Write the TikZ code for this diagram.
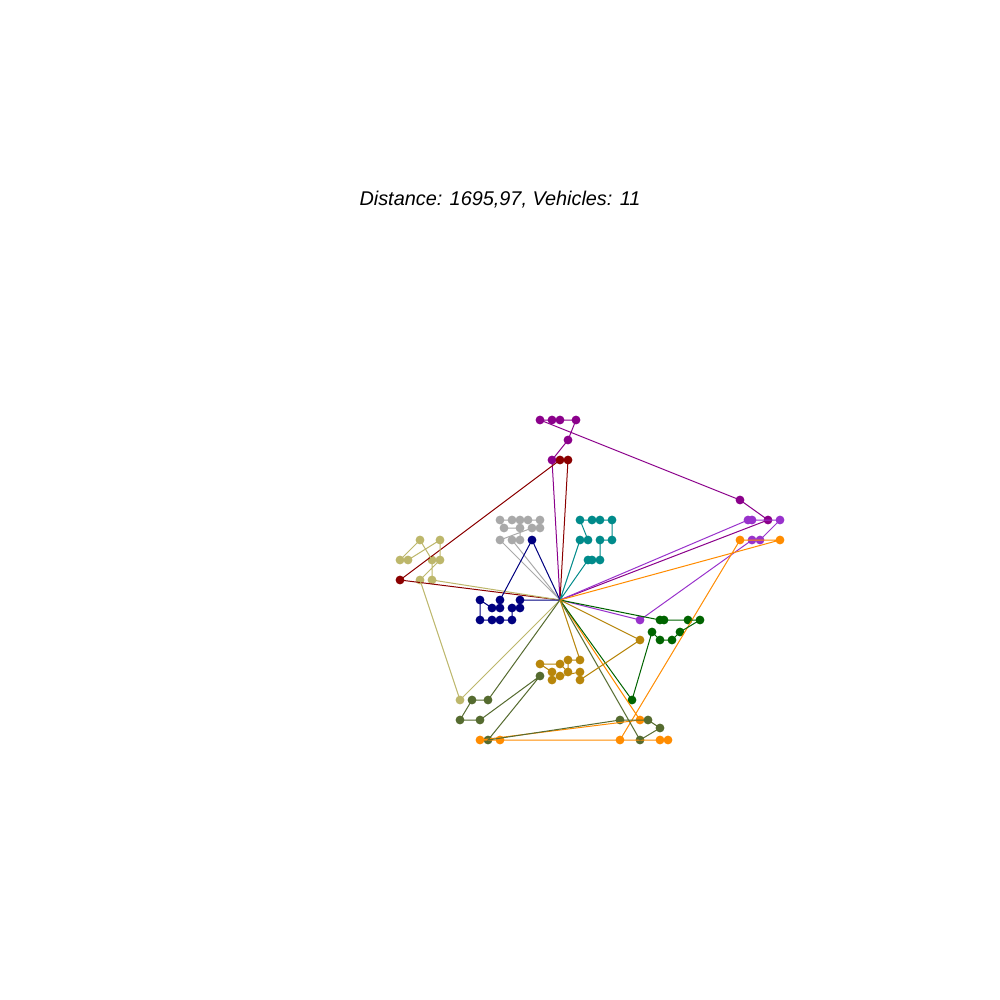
\documentclass[tikz,border=0pt]{standalone}
\usepackage{fontspec}
\setmainfont{Liberation Sans}
\definecolor{cM}{HTML}{8B008B}
\definecolor{cR}{HTML}{8B0000}
\definecolor{cK}{HTML}{BDB76B}
\definecolor{cG}{HTML}{A9A9A9}
\definecolor{cN}{HTML}{000080}
\definecolor{cT}{HTML}{008B8B}
\definecolor{cO}{HTML}{9932CC}
\definecolor{cA}{HTML}{FF8C00}
\definecolor{cE}{HTML}{006400}
\definecolor{cV}{HTML}{556B2F}
\definecolor{cY}{HTML}{B8860B}
\begin{document}
\begin{tikzpicture}[x=0.75pt,y=-0.75pt,
  stop/.style={circle,inner sep=0pt,minimum size=6.6pt,fill=#1,draw=none},
  route/.style={draw=#1,line width=0.75pt}]
\useasboundingbox[fill=white] (0,0) rectangle (1000,1000);
\node[font=\itshape\fontsize{14.9}{17}\selectfont] (title) at (500,200) {Distance: 1695,97, Vehicles: 11};
\coordinate (d) at (560,600);
% darkmagenta
\node[stop=cM] (M1) at (552,460) {}; \node[stop=cM] (M2) at (568,440) {};
\node[stop=cM] (M3) at (576,420) {}; \node[stop=cM] (M4) at (560,420) {};
\node[stop=cM] (M5) at (552,420) {}; \node[stop=cM] (M6) at (540,420) {};
\node[stop=cM] (M7) at (740,500) {}; \node[stop=cM] (M8) at (768,520) {};
% darkred
\node[stop=cR] (R1) at (568,460) {}; \node[stop=cR] (R2) at (560,460) {};
\node[stop=cR] (R3) at (400,580) {};
% khaki
\node[stop=cK] (K1) at (432,580) {}; \node[stop=cK] (K2) at (432,560) {};
\node[stop=cK] (K3) at (420,540) {}; \node[stop=cK] (K4) at (400,560) {};
\node[stop=cK] (K5) at (408,560) {}; \node[stop=cK] (K6) at (440,540) {};
\node[stop=cK] (K7) at (440,560) {}; \node[stop=cK] (K8) at (420,580) {};
\node[stop=cK] (K9) at (460,700) {};
% gray
\node[stop=cG] (G1) at (500,540) {}; \node[stop=cG] (G2) at (532,528) {};
\node[stop=cG] (G3) at (540,528) {}; \node[stop=cG] (G4) at (540,520) {};
\node[stop=cG] (G5) at (528,520) {}; \node[stop=cG] (G6) at (520,520) {};
\node[stop=cG] (G7) at (512,520) {}; \node[stop=cG] (G8) at (500,520) {};
\node[stop=cG] (G9) at (504,528) {}; \node[stop=cG] (G10) at (520,528) {};
\node[stop=cG] (G11) at (520,540) {}; \node[stop=cG] (G12) at (512,540) {};
% navy
\node[stop=cN] (N1) at (532,540) {}; \node[stop=cN] (N2) at (500,600) {};
\node[stop=cN] (N3) at (500,608) {}; \node[stop=cN] (N4) at (492,608) {};
\node[stop=cN] (N5) at (480,600) {}; \node[stop=cN] (N6) at (480,620) {};
\node[stop=cN] (N7) at (492,620) {}; \node[stop=cN] (N8) at (500,620) {};
\node[stop=cN] (N9) at (512,620) {}; \node[stop=cN] (N10) at (512,608) {};
\node[stop=cN] (N11) at (520,608) {}; \node[stop=cN] (N12) at (520,600) {};
% teal
\node[stop=cT] (T1) at (580,540) {}; \node[stop=cT] (T2) at (588,540) {};
\node[stop=cT] (T3) at (580,520) {}; \node[stop=cT] (T4) at (592,520) {};
\node[stop=cT] (T5) at (600,520) {}; \node[stop=cT] (T6) at (612,520) {};
\node[stop=cT] (T7) at (612,540) {}; \node[stop=cT] (T8) at (600,540) {};
\node[stop=cT] (T9) at (600,560) {}; \node[stop=cT] (T10) at (592,560) {};
\node[stop=cT] (T11) at (588,560) {};
% orchid
\node[stop=cO] (O1) at (748,520) {}; \node[stop=cO] (O2) at (752,520) {};
\node[stop=cO] (O3) at (780,520) {}; \node[stop=cO] (O4) at (760,540) {};
\node[stop=cO] (O5) at (752,540) {}; \node[stop=cO] (O6) at (640,620) {};
% orange
\node[stop=cA] (A1) at (640,720) {}; \node[stop=cA] (A2) at (480,740) {};
\node[stop=cA] (A3) at (500,740) {}; \node[stop=cA] (A4) at (668,740) {};
\node[stop=cA] (A5) at (660,740) {}; \node[stop=cA] (A6) at (620,740) {};
\node[stop=cA] (A7) at (740,540) {}; \node[stop=cA] (A8) at (780,540) {};
% green
\node[stop=cE] (E1) at (660,620) {}; \node[stop=cE] (E2) at (664,620) {};
\node[stop=cE] (E3) at (688,620) {}; \node[stop=cE] (E4) at (700,620) {};
\node[stop=cE] (E5) at (680,632) {}; \node[stop=cE] (E6) at (672,640) {};
\node[stop=cE] (E7) at (660,640) {}; \node[stop=cE] (E8) at (652,632) {};
\node[stop=cE] (E9) at (632,700) {};
% olive
\node[stop=cV] (V1) at (488,700) {}; \node[stop=cV] (V2) at (472,700) {};
\node[stop=cV] (V3) at (460,720) {}; \node[stop=cV] (V4) at (480,720) {};
\node[stop=cV] (V5) at (540,676) {}; \node[stop=cV] (V6) at (488,740) {};
\node[stop=cV] (V7) at (620,720) {}; \node[stop=cV] (V8) at (648,720) {};
\node[stop=cV] (V9) at (660,728) {}; \node[stop=cV] (V10) at (640,740) {};
% goldenrod
\node[stop=cY] (Y1) at (580,660) {}; \node[stop=cY] (Y2) at (568,660) {};
\node[stop=cY] (Y3) at (568,672) {}; \node[stop=cY] (Y4) at (560,664) {};
\node[stop=cY] (Y5) at (540,664) {}; \node[stop=cY] (Y6) at (552,672) {};
\node[stop=cY] (Y7) at (552,680) {}; \node[stop=cY] (Y8) at (560,676) {};
\node[stop=cY] (Y9) at (580,672) {}; \node[stop=cY] (Y10) at (580,680) {};
\node[stop=cY] (Y11) at (640,640) {};
% routes
\path[route=cM] (d) -- (M1.center) -- (M2.center) -- (M3.center) -- (M4.center) -- (M5.center) -- (M6.center) -- (M7.center) -- (M8.center) -- (d);
\path[route=cR] (d) -- (R1.center) -- (R2.center) -- (R3.center) -- (d);
\path[route=cK] (d) -- (K1.center) -- (K2.center) -- (K3.center) -- (K4.center) -- (K5.center) -- (K6.center) -- (K7.center) -- (K8.center) -- (K9.center) -- (d);
\path[route=cG] (d) -- (G1.center) -- (G2.center) -- (G3.center) -- (G4.center) -- (G5.center) -- (G6.center) -- (G7.center) -- (G8.center) -- (G9.center) -- (G10.center) -- (G11.center) -- (G12.center) -- (d);
\path[route=cN] (d) -- (N1.center) -- (N2.center) -- (N3.center) -- (N4.center) -- (N5.center) -- (N6.center) -- (N7.center) -- (N8.center) -- (N9.center) -- (N10.center) -- (N11.center) -- (N12.center) -- (d);
\path[route=cT] (d) -- (T1.center) -- (T2.center) -- (T3.center) -- (T4.center) -- (T5.center) -- (T6.center) -- (T7.center) -- (T8.center) -- (T9.center) -- (T10.center) -- (T11.center) -- (d);
\path[route=cO] (d) -- (O1.center) -- (O2.center) -- (O3.center) -- (O4.center) -- (O5.center) -- (O6.center) -- (d);
\path[route=cA] (d) -- (A1.center) -- (A2.center) -- (A3.center) -- (A4.center) -- (A5.center) -- (A6.center) -- (A7.center) -- (A8.center) -- (d);
\path[route=cE] (d) -- (E1.center) -- (E2.center) -- (E3.center) -- (E4.center) -- (E5.center) -- (E6.center) -- (E7.center) -- (E8.center) -- (E9.center) -- (d);
\path[route=cV] (d) -- (V1.center) -- (V2.center) -- (V3.center) -- (V4.center) -- (V5.center) -- (V6.center) -- (V7.center) -- (V8.center) -- (V9.center) -- (V10.center) -- (d);
\path[route=cY] (d) -- (Y1.center) -- (Y2.center) -- (Y3.center) -- (Y4.center) -- (Y5.center) -- (Y6.center) -- (Y7.center) -- (Y8.center) -- (Y9.center) -- (Y10.center) -- (Y11.center) -- (d);
\end{tikzpicture}
\end{document}
